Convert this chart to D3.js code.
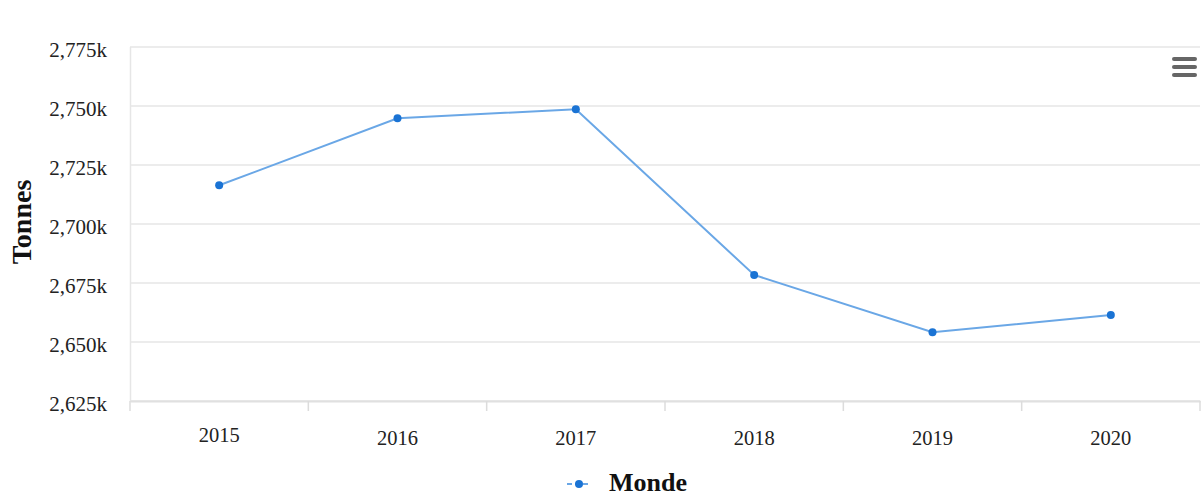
<!DOCTYPE html>
<html><head><meta charset="utf-8">
<script src="https://cdn.jsdelivr.net/npm/d3@7"></script>
<style>body{margin:0;background:#fff}svg{display:block}</style>
</head><body>
<svg id="c" width="1204" height="497"></svg>
<script>
const categories = ["2015","2016","2017","2018","2019","2020"];
const values = [2716400, 2744800, 2748600, 2678400, 2654100, 2661400];
const yTicks = [2625000, 2650000, 2675000, 2700000, 2725000, 2750000, 2775000];
const seriesName = "Monde";
const yTitle = "Tonnes";

const svg = d3.select("#c");
const plotL = 130, plotR = 1200, plotT = 47, plotB = 401;
const font = "'Liberation Serif','Times New Roman',serif";

const x = d3.scaleBand().domain(categories).range([plotL, plotR]);
const y = d3.scaleLinear().domain([2625000, 2775000]).range([plotB, plotT]);

// gridlines
svg.append("g").selectAll("line").data(yTicks).join("line")
  .attr("x1", plotL).attr("x2", plotR)
  .attr("y1", d => y(d)).attr("y2", d => y(d))
  .attr("stroke", "#e6e6e6").attr("stroke-width", 1.5);
// left vertical axis line
svg.append("line").attr("x1", plotL + 0.5).attr("x2", plotL + 0.5).attr("y1", plotT).attr("y2", plotB)
  .attr("stroke", "#e6e6e6").attr("stroke-width", 1.5);

// y labels
svg.append("g").selectAll("text").data(yTicks).join("text")
  .attr("x", 107).attr("y", d => y(d) + 9.5)
  .attr("text-anchor", "end")
  .attr("font-family", font).attr("font-size", 21).attr("fill", "#222")
  .text(d => d3.format(",")(d / 1000) + "k");

// x axis
const xAxis = d3.axisBottom(x).tickSize(10).tickSizeOuter(0).tickFormat("");
const gx = svg.append("g").attr("transform", `translate(0,${plotB})`).call(xAxis);
gx.select(".domain").attr("stroke", "#e0e0e0").attr("stroke-width", 2);
gx.selectAll(".tick line").remove();
const edges = categories.map(c => x(c)).concat([plotR]);
gx.selectAll("line.edge").data(edges).join("line").attr("class", "edge")
  .attr("x1", d => d).attr("x2", d => d).attr("y1", 0).attr("y2", 10)
  .attr("stroke", "#dcdcdc").attr("stroke-width", 1.5);

svg.append("g").selectAll("text").data(categories).join("text")
  .attr("x", d => x(d) + x.bandwidth() / 2).attr("y", (d, i) => i === 0 ? 441.5 : 444.5)
  .attr("text-anchor", "middle")
  .attr("font-family", font).attr("font-size", 20.5).attr("fill", "#222")
  .text(d => d);

// y title
svg.append("text").attr("transform", "translate(31,222) rotate(-90)")
  .attr("text-anchor", "middle").attr("font-family", font)
  .attr("font-size", 28).attr("font-weight", "bold").attr("fill", "#111")
  .text(yTitle);

// line
const cx = d => x(d) + x.bandwidth() / 2;
const line = d3.line().x((d, i) => cx(categories[i])).y(d => y(d));
svg.append("path").datum(values).attr("d", line)
  .attr("fill", "none").attr("stroke", "#6aa7e6").attr("stroke-width", 2);
svg.append("g").selectAll("circle").data(values).join("circle")
  .attr("cx", (d, i) => cx(categories[i])).attr("cy", d => y(d)).attr("r", 4)
  .attr("fill", "#1a73d4");

// legend
svg.append("line").attr("x1", 567).attr("x2", 591).attr("y1", 484).attr("y2", 484)
  .attr("stroke", "#6aa7e6").attr("stroke-width", 2).attr("stroke-dasharray", "5,3");
svg.append("circle").attr("cx", 579).attr("cy", 484).attr("r", 4).attr("fill", "#1a73d4");
svg.append("text").attr("x", 609).attr("y", 490.5)
  .attr("font-family", font).attr("font-size", 26).attr("font-weight", "bold").attr("fill", "#111")
  .text(seriesName);

// menu icon
svg.append("g").selectAll("rect").data([0, 1, 2]).join("rect")
  .attr("x", 1172).attr("y", d => 57 + d * 8).attr("width", 25).attr("height", 4).attr("rx", 2)
  .attr("fill", "#666");
</script>
</body></html>
